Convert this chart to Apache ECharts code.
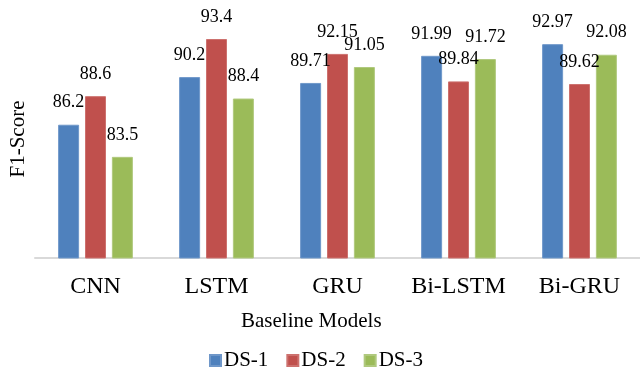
<!DOCTYPE html>
<html>
<head>
<meta charset="utf-8">
<script src="https://cdn.jsdelivr.net/npm/echarts@6/dist/echarts.min.js"></script>
<style>
  html, body { margin: 0; padding: 0; background: #ffffff; }
  #chart { width: 640px; height: 369px; }
</style>
</head>
<body>
<div id="chart"></div>
<script>
// F1-scores of baseline models on three datasets
const models = ['CNN', 'LSTM', 'GRU', 'Bi-LSTM', 'Bi-GRU'];
const ds1 = [86.2, 90.2, 89.71, 91.99, 92.97];
const ds2 = [88.6, 93.4, 92.15, 89.84, 89.62];
const ds3 = [83.5, 88.4, 91.05, 91.72, 92.08];
const seriesNames = ['DS-1', 'DS-2', 'DS-3'];
const colors = ['#4F81BD', '#C0504D', '#9BBB59'];
const borders = ['#6f97c9', '#cd716e', '#b0c97e'];

const serif = '"Liberation Serif", "Times New Roman", serif';

const chart = echarts.init(document.getElementById('chart'), null, { renderer: 'canvas' });

function barSeries(name, data, i) {
  return {
    name: name,
    type: 'bar',
    data: data,
    barWidth: 21,
    barGap: '28%',
    itemStyle: { color: colors[i], borderColor: borders[i], borderWidth: 1 },
    label: {
      show: true,
      position: 'top',
      distance: 13,
      fontFamily: serif,
      fontSize: 18,
      color: '#000000'
    }
  };
}

chart.setOption({
  animation: false,
  backgroundColor: '#ffffff',
  textStyle: { fontFamily: serif },
  grid: { left: 35, right: -7, top: 20, bottom: 111, containLabel: false },
  legend: {
    data: seriesNames,
    left: 209,
    top: 350,
    padding: 0,
    itemWidth: 11,
    itemHeight: 11,
    itemGap: 18,
    icon: 'rect',
    textStyle: { fontFamily: serif, fontSize: 21, color: '#000000', padding: [0, 0, 0, -2] }
  },
  xAxis: {
    type: 'category',
    data: models,
    axisLine: { show: true, lineStyle: { color: '#d9d9d9', width: 2 } },
    axisTick: { show: false },
    axisLabel: {
      interval: 0,
      hideOverlap: false,
      fontFamily: serif,
      fontSize: 24,
      color: '#000000',
      margin: 17
    }
  },
  yAxis: {
    type: 'value',
    min: 75,
    max: 95,
    name: 'F1-Score',
    nameLocation: 'middle',
    nameGap: 6,
    nameTextStyle: { fontFamily: serif, fontSize: 21, color: '#000000' },
    axisLine: { show: false },
    axisTick: { show: false },
    axisLabel: { show: false },
    splitLine: { show: false }
  },
  graphic: [{
    type: 'text',
    left: 241,
    top: 311,
    style: { text: 'Baseline Models', font: '21px ' + serif, fill: '#000000' }
  }],
  series: [
    barSeries(seriesNames[0], ds1, 0),
    barSeries(seriesNames[1], ds2, 1),
    barSeries(seriesNames[2], ds3, 2)
  ]
});
</script>
</body>
</html>
